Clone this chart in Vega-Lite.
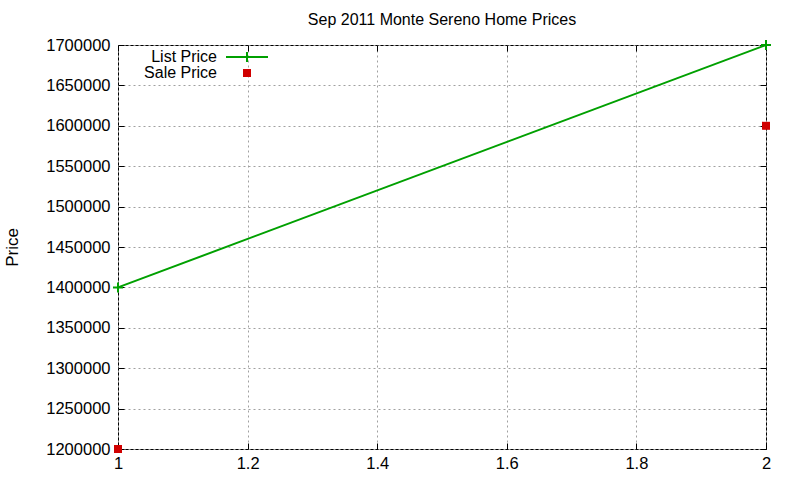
{
  "$schema": "https://vega.github.io/schema/vega-lite/v6.json",
  "width": 648,
  "height": 404,
  "autosize": "none",
  "padding": {"left": 118, "top": 45, "right": 34, "bottom": 31},
  "background": "white",
  "title": {
    "text": "Sep 2011 Monte Sereno Home Prices",
    "font": "Liberation Sans",
    "fontSize": 16,
    "fontWeight": "normal",
    "color": "black",
    "anchor": "middle",
    "offset": 8
  },
  "data": {
    "values": [
      {"x": 1, "price": 1400000, "series": "List Price"},
      {"x": 2, "price": 1700000, "series": "List Price"},
      {"x": 1, "price": 1200000, "series": "Sale Price"},
      {"x": 2, "price": 1600000, "series": "Sale Price"}
    ]
  },
  "layer": [
    {
      "transform": [{"filter": "datum.series == 'List Price'"}],
      "mark": {"type": "line", "strokeWidth": 2, "clip": false},
      "encoding": {
        "x": {
          "field": "x",
          "type": "quantitative",
          "scale": {"domain": [1, 2], "nice": false, "zero": false},
          "axis": {
            "orient": "bottom",
            "title": null,
            "ticks": false,
            "labelPadding": 6,
            "labelFlush": false,
            "values": [1, 1.2, 1.4, 1.6, 1.8, 2],
            "format": "~g"
          }
        },
        "y": {
          "field": "price",
          "type": "quantitative",
          "scale": {"domain": [1200000, 1700000], "nice": false, "zero": false},
          "axis": {
            "orient": "left",
            "title": "Price",
            "titleX": -106,
            "titleY": 202,
            "titleAngle": -90,
            "titleAlign": "center",
            "titleBaseline": "middle",
            "ticks": false,
            "labelPadding": 8,
            "labelFlush": false,
            "values": [1200000, 1250000, 1300000, 1350000, 1400000, 1450000, 1500000, 1550000, 1600000, 1650000, 1700000],
            "format": "d"
          }
        },
        "stroke": {
          "field": "series",
          "type": "nominal",
          "scale": {"domain": ["List Price"], "range": ["#00a000"]},
          "legend": {
            "title": null,
            "orient": "none",
            "legendX": 121,
            "legendY": 4,
            "labelAlign": "right",
            "labelOffset": -38,
            "symbolType": "M-5.25,0H5.25M0,-1.25V1.25",
            "symbolSize": 64,
            "symbolStrokeWidth": 2,
            "symbolFillColor": "transparent"
          }
        }
      }
    },
    {
      "transform": [{"filter": "datum.series == 'List Price'"}],
      "mark": {"type": "point", "shape": "M-1.25,0H1.25M0,-1.25V1.25", "filled": false, "size": 64, "strokeWidth": 2, "color": "#00a000", "opacity": 1, "clip": false},
      "encoding": {
        "x": {
          "field": "x",
          "type": "quantitative",
          "axis": {"orient": "bottom", "offset": -6, "labels": false, "grid": false, "title": null, "values": [1, 1.2, 1.4, 1.6, 1.8, 2]}
        },
        "y": {
          "field": "price",
          "type": "quantitative",
          "axis": {"orient": "left", "offset": -6, "labels": false, "grid": false, "title": null, "values": [1200000, 1250000, 1300000, 1350000, 1400000, 1450000, 1500000, 1550000, 1600000, 1650000, 1700000]}
        }
      }
    },
    {
      "transform": [{"filter": "datum.series == 'Sale Price'"}],
      "mark": {"type": "point", "shape": "square", "filled": true, "size": 64, "opacity": 1, "clip": false},
      "encoding": {
        "x": {
          "field": "x",
          "type": "quantitative",
          "axis": {"orient": "top", "offset": -6, "labels": false, "grid": false, "title": null, "values": [1, 1.2, 1.4, 1.6, 1.8, 2]}
        },
        "y": {
          "field": "price",
          "type": "quantitative",
          "axis": {"orient": "right", "offset": -6, "labels": false, "grid": false, "title": null, "values": [1200000, 1250000, 1300000, 1350000, 1400000, 1450000, 1500000, 1550000, 1600000, 1650000, 1700000]}
        },
        "fill": {
          "field": "series",
          "type": "nominal",
          "scale": {"domain": ["Sale Price"], "range": ["#d00000"]},
          "legend": {
            "title": null,
            "orient": "none",
            "legendX": 121,
            "legendY": 20,
            "labelAlign": "right",
            "labelOffset": -38,
            "symbolType": "square",
            "symbolSize": 64,
            "symbolStrokeWidth": 0
          }
        }
      }
    }
  ],
  "resolve": {"axis": {"x": "independent", "y": "independent"}},
  "config": {
    "view": {"stroke": "black", "strokeWidth": 1},
    "legend": {
      "labelFont": "Liberation Sans",
      "labelFontSize": 16,
      "labelColor": "black",
      "rowPadding": 0,
      "symbolOpacity": 1
    },
    "axis": {
      "labelFont": "Liberation Sans",
      "labelFontSize": 16.5,
      "labelColor": "black",
      "titleFont": "Liberation Sans",
      "titleFontSize": 17,
      "titleFontWeight": "normal",
      "titleColor": "black",
      "domain": false,
      "grid": true,
      "gridColor": "#a0a0a0",
      "gridDash": [2, 3],
      "gridWidth": 1,
      "gridOpacity": 1,
      "tickColor": "black",
      "tickSize": 6,
      "tickWidth": 1
    }
  }
}
